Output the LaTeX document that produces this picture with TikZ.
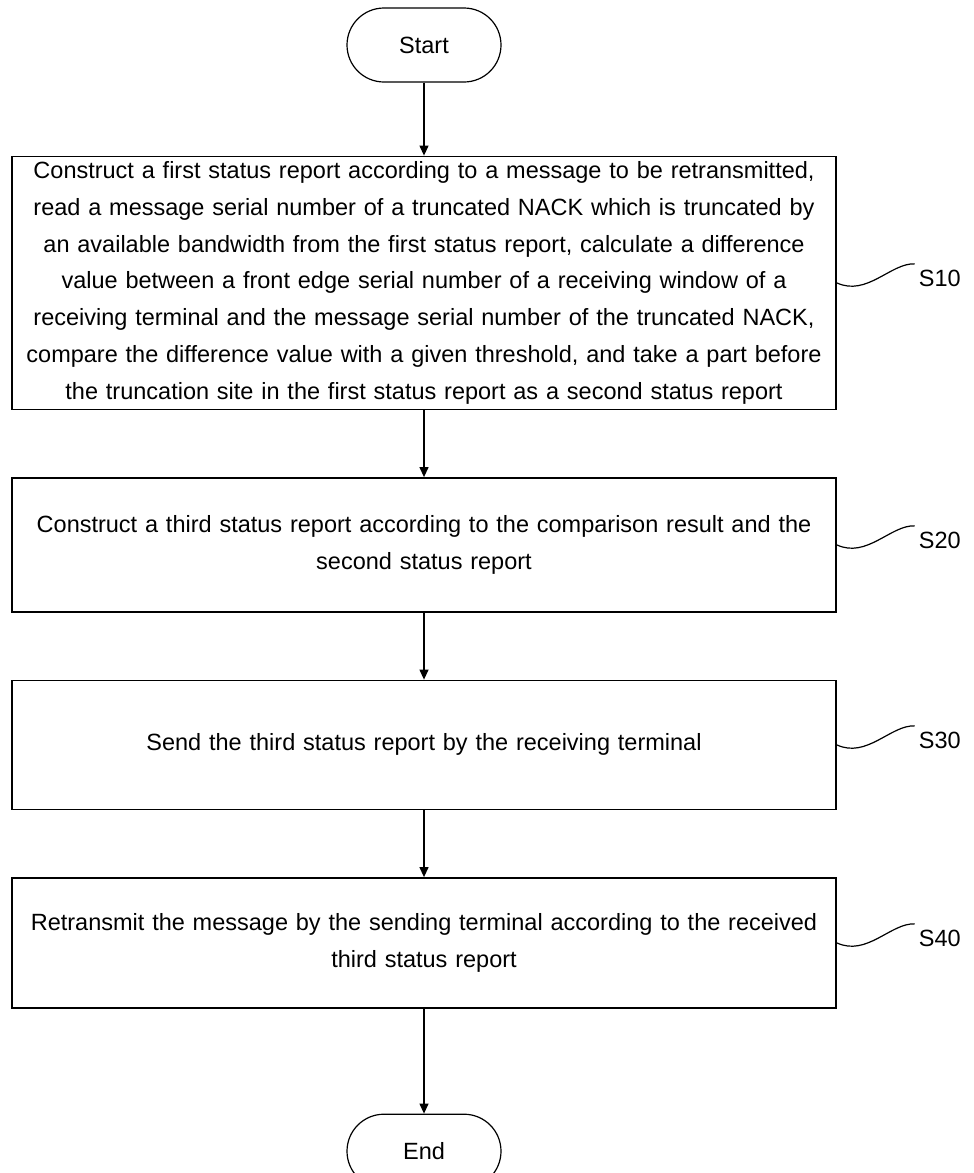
\documentclass[tikz,border=0pt]{standalone}
\usepackage{fontspec}
\setmainfont{Liberation Sans}
\usepackage{tikz}
\usetikzlibrary{arrows.meta,positioning,calc}

\begin{document}
\begin{tikzpicture}[
    x=1pt, y=1pt,
    node distance=67pt,
    box/.style={draw, line width=1.5pt, align=center, text width=810pt,
                minimum width=824pt, inner sep=0pt,
                font=\fontsize{23.5pt}{36.7pt}\selectfont},
    term/.style={draw, line width=1.2pt, rounded corners=37pt, align=center,
                minimum width=154pt, minimum height=74pt,
                font=\fontsize{23.5pt}{28pt}\selectfont},
    arrow/.style={-{Triangle[length=10pt,width=9pt]}, line width=1.2pt},
    wave/.style={line width=1.2pt},
    tag/.style={anchor=west, inner sep=0pt, font=\fontsize{23.5pt}{28pt}\selectfont}
]
\useasboundingbox (0,0) rectangle (974,-1173);

\node[term] (start) at (424,-45) {Start};

\node[box, minimum height=253pt, below=73pt of start] (s10)
    {Construct a first status report according to a message to be retransmitted,\\
     read a message serial number of a truncated NACK which is truncated by\\
     an available bandwidth from the first status report, calculate a difference\\
     value between a front edge serial number of a receiving window of a\\
     receiving terminal and the message serial number of the truncated NACK,\\
     compare the difference value with a given threshold, and take a part before\\
     the truncation site in the first status report as a second status report};

\node[box, minimum height=134pt, below=of s10] (s20)
    {Construct a third status report according to the comparison result and the\\
     second status report};

\node[box, minimum height=129pt, below=of s20] (s30)
    {Send the third status report by the receiving terminal};

\node[box, minimum height=130pt, below=of s30] (s40)
    {Retransmit the message by the sending terminal according to the received\\
     third status report};

\node[term, below=105pt of s40] (end) {End};

% step labels
\node[tag] (t10) at ($(s10.east)+(82,4)$) {S10};
\node[tag] (t20) at ($(s20.east)+(82,4)$) {S20};
\node[tag] (t30) at ($(s30.east)+(82,4)$) {S30};
\node[tag] (t40) at ($(s40.east)+(82,4)$) {S40};

\draw[wave] (s10.east) .. controls +(30,-14) and +(-24,1) .. ($(t10.west)+(-4,15)$);
\draw[wave] (s20.east) .. controls +(30,-14) and +(-24,1) .. ($(t20.west)+(-4,15)$);
\draw[wave] (s30.east) .. controls +(30,-14) and +(-24,1) .. ($(t30.west)+(-4,15)$);
\draw[wave] (s40.east) .. controls +(30,-14) and +(-24,1) .. ($(t40.west)+(-4,15)$);

\draw[arrow] (start) -- (s10);
\draw[arrow] (s10) -- (s20);
\draw[arrow] (s20) -- (s30);
\draw[arrow] (s30) -- (s40);
\draw[arrow] (s40) -- (end);

\end{tikzpicture}
\end{document}
